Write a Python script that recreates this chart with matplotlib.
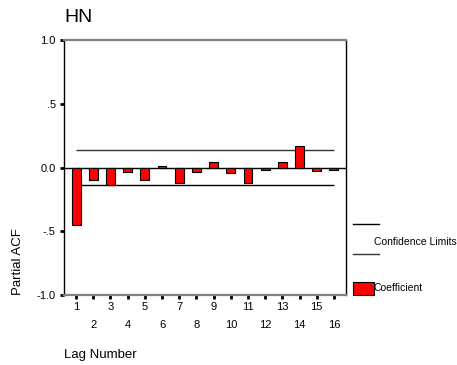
import matplotlib.pyplot as plt
from matplotlib.lines import Line2D
from matplotlib.patches import Rectangle

plt.rcParams['font.family'] = ['Liberation Sans', 'DejaVu Sans']

# partial autocorrelation coefficients for lags 1..16
lags = list(range(1, 17))
pacf = [-0.45, -0.10, -0.135, -0.035, -0.10, 0.01, -0.12, -0.035,
        0.047, -0.04, -0.12, -0.02, 0.047, 0.167, -0.03, -0.02]
conf_limit = 0.14

y_ticks = [-1.0, -0.5, 0.0, 0.5, 1.0]
y_tick_labels = ['-1.0', '-.5', '0.0', '.5', '1.0']

W, H = 457, 365
fig = plt.figure(figsize=(W / 100, H / 100), dpi=100)
ax = fig.add_axes([64 / W, 1 - 295 / H, (346 - 64) / W, (295 - 40) / H])

ax.bar(lags, pacf, width=0.52, color='#ff0000', edgecolor='black', linewidth=0.8, zorder=3)
ax.axhline(0, color='black', linewidth=1, zorder=2)
ax.hlines([conf_limit, -conf_limit], lags[0], lags[-1], colors=['#333333', 'black'], linewidth=1, zorder=2)

ax.set_xlim(0.3, 16.7)
ax.set_ylim(-1.0, 1.0)

# odd lags on the first row, even lags dropped to a second row
ax.set_xticks([l for l in lags if l % 2 == 1])
ax.set_xticks([l for l in lags if l % 2 == 0], minor=True)
ax.set_xticklabels([str(l) for l in lags if l % 2 == 1])
ax.set_xticklabels([str(l) for l in lags if l % 2 == 0], minor=True)
ax.tick_params(axis='x', which='both', direction='out', length=3, width=2, labelsize=8, color='black')
ax.tick_params(axis='x', which='major', pad=2)
ax.tick_params(axis='x', which='minor', pad=15)

ax.set_yticks(y_ticks)
ax.set_yticklabels(y_tick_labels)
ax.tick_params(axis='y', direction='out', length=3, width=2, labelsize=8, pad=3)

for side in ['top', 'bottom']:
    ax.spines[side].set_color('#808080')
    ax.spines[side].set_linewidth(1.6)
for side in ['left', 'right']:
    ax.spines[side].set_color('black')
    ax.spines[side].set_linewidth(1)

fig.text(64 / W, 1 - 18 / H, 'HN', fontsize=14, ha='left', va='center')
fig.text(18 / W, 1 - 295 / H, 'Partial ACF', fontsize=9.5, rotation=90, ha='center', va='bottom')
fig.text(64 / W, 1 - 355 / H, 'Lag Number', fontsize=9.5, ha='left', va='center')

# legend block to the right of the axes
fig.add_artist(Line2D([353 / W, 379 / W], [1 - 224 / H] * 2, color='black', linewidth=1))
fig.add_artist(Line2D([353 / W, 379 / W], [1 - 254 / H] * 2, color='#333333', linewidth=1))
fig.text(374 / W, 1 - 242 / H, 'Confidence Limits', fontsize=7.5, ha='left', va='center')
fig.add_artist(Rectangle((353 / W, 1 - 295 / H), 21 / W, 13 / H, transform=fig.transFigure,
                         facecolor='#ff0000', edgecolor='black', linewidth=0.8))
fig.text(374 / W, 1 - 288 / H, 'Coefficient', fontsize=7.5, ha='left', va='center')

fig.savefig('out.png', dpi=100)
